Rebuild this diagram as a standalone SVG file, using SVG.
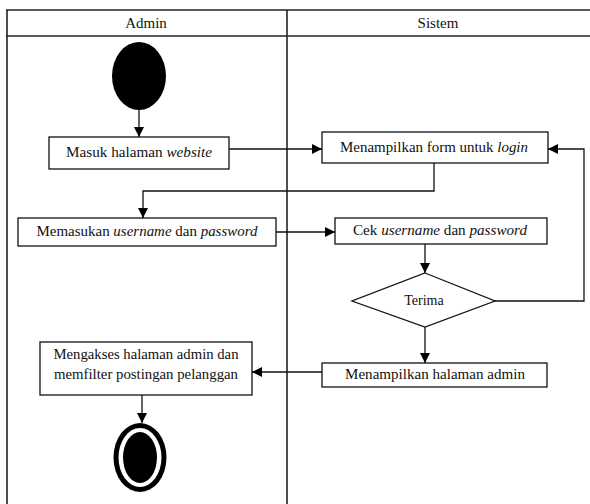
<svg xmlns="http://www.w3.org/2000/svg" width="590" height="504" viewBox="0 0 590 504">
<style>
.frame{stroke:#222;stroke-width:1.6;fill:none}
.box{fill:#fff;stroke:#111;stroke-width:1.3}
text{font-family:'Liberation Serif','DejaVu Serif',serif;fill:#111;text-anchor:middle}
.t{font-size:14px}
.h{font-size:15px}
.i{font-style:italic}
.c{fill:none;stroke:#111;stroke-width:1.3}
</style>
<defs>
<marker id="arr" viewBox="0 0 10 10" refX="10" refY="5" markerWidth="10" markerHeight="10" markerUnits="userSpaceOnUse" orient="auto">
<path d="M0,0 L10,5 L0,10 z" fill="#000"/>
</marker>
</defs>
<rect width="590" height="504" fill="#fff"/>
<g id="swimlanes">
<line class="frame" x1="6" y1="10" x2="590" y2="10"/>
<line class="frame" x1="6" y1="36" x2="590" y2="36"/>
<line class="frame" x1="7" y1="10" x2="7" y2="504"/>
<line class="frame" x1="287" y1="10" x2="287" y2="504"/>
<text class="h" x="146" y="28">Admin</text>
<text class="h" x="438" y="28">Sistem</text>
</g>
<g id="start"><ellipse cx="139" cy="76" rx="27" ry="34" fill="#000"/></g>
<g id="masuk"><rect class="box" x="49" y="137" width="180" height="32"/><text class="t" x="139" y="157" textLength="146" lengthAdjust="spacingAndGlyphs">Masuk halaman <tspan class="i">website</tspan></text></g>
<g id="form"><rect class="box" x="322" y="132" width="226" height="31"/><text class="t" x="434" y="152" textLength="188" lengthAdjust="spacingAndGlyphs">Menampilkan form untuk <tspan class="i">login</tspan></text></g>
<g id="memasukan"><rect class="box" x="18" y="218" width="258" height="28"/><text class="t" x="147" y="236" textLength="221" lengthAdjust="spacingAndGlyphs">Memasukan <tspan class="i">username</tspan> dan <tspan class="i">password</tspan></text></g>
<g id="cek"><rect class="box" x="335" y="218" width="212" height="26"/><text class="t" x="440" y="235" textLength="174" lengthAdjust="spacingAndGlyphs">Cek <tspan class="i">username</tspan> dan <tspan class="i">password</tspan></text></g>
<g id="terima"><polygon class="box" points="425,273 495,301 425,327 352,301"/><text class="t" x="424" y="305">Terima</text></g>
<g id="halaman"><rect class="box" x="322" y="363" width="225" height="24"/><text class="t" x="435" y="379" textLength="180" lengthAdjust="spacingAndGlyphs">Menampilkan halaman admin</text></g>
<g id="mengakses"><rect class="box" x="40" y="342" width="212" height="53"/><text class="t" x="146" y="359" textLength="185" lengthAdjust="spacingAndGlyphs">Mengakses halaman admin dan</text><text class="t" x="146" y="379" textLength="184" lengthAdjust="spacingAndGlyphs">memfilter postingan pelanggan</text></g>
<g id="end"><ellipse cx="140" cy="457.5" rx="26.5" ry="34.5" fill="#000"/><ellipse cx="140" cy="457.5" rx="21.5" ry="29.5" fill="#fff"/><ellipse cx="140" cy="457.5" rx="17" ry="25.5" fill="#000"/></g>
<g id="connectors">
<polyline class="c" points="139,110 139,137" marker-end="url(#arr)"/>
<polyline class="c" points="229,149 322,149" marker-end="url(#arr)"/>
<polyline class="c" points="434,163 434,191 143,191 143,218" marker-end="url(#arr)"/>
<polyline class="c" points="276,232 335,232" marker-end="url(#arr)"/>
<polyline class="c" points="425,244 425,273" marker-end="url(#arr)"/>
<polyline class="c" points="495,301 584,301 584,149 548,149" marker-end="url(#arr)"/>
<polyline class="c" points="425,327 425,363" marker-end="url(#arr)"/>
<polyline class="c" points="322,372 252,372" marker-end="url(#arr)"/>
<polyline class="c" points="142,395 142,423" marker-end="url(#arr)"/>
</g>
</svg>
